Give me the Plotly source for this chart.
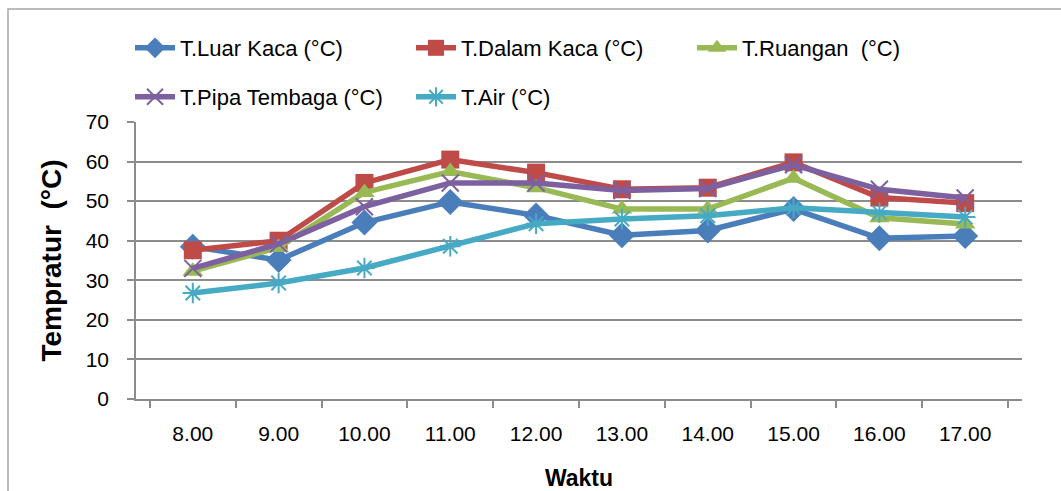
import plotly.graph_objects as go

# Jam pengukuran
waktu = ["8.00", "9.00", "10.00", "11.00", "12.00", "13.00", "14.00", "15.00", "16.00", "17.00"]

# Suhu terukur (°C)
t_luar_kaca = [38.5, 35.1, 44.6, 49.8, 46.4, 41.4, 42.6, 48.0, 40.6, 41.2]
t_dalam_kaca = [37.6, 40.0, 54.6, 60.5, 57.2, 53.0, 53.4, 59.8, 50.9, 49.5]
t_ruangan = [32.3, 38.3, 52.2, 57.5, 53.4, 48.0, 48.0, 55.8, 45.8, 44.2]
t_pipa_tembaga = [33.0, 39.2, 48.6, 54.6, 54.6, 52.7, 53.2, 59.2, 53.0, 50.8]
t_air = [26.8, 29.3, 33.1, 38.6, 44.3, 45.5, 46.3, 48.3, 47.1, 46.0]

FONT = "Liberation Sans"
GRID = "#8c8c8c"

series = [
    ("T.Luar Kaca (°C)", t_luar_kaca, "#4a7ebb", dict(symbol="diamond", size=20), "legend"),
    ("T.Dalam Kaca (°C)", t_dalam_kaca, "#be4b48", dict(symbol="square", size=18), "legend"),
    ("T.Ruangan\u00a0 (°C)", t_ruangan, "#98b954", dict(symbol="triangle-up", size=18), "legend"),
    ("T.Pipa Tembaga (°C)", t_pipa_tembaga, "#7d60a0", dict(symbol="x-thin-open", size=17), "legend2"),
    ("T.Air (°C)", t_air, "#46aac5", dict(symbol="asterisk-open", size=17), "legend2"),
]

fig = go.Figure()
for name, vals, color, mk, lg in series:
    thin = mk["symbol"].endswith("open")
    fig.add_trace(go.Scatter(
        x=waktu, y=vals, name=name, mode="lines+markers",
        line=dict(color=color, width=5.5),
        marker=dict(symbol=mk["symbol"], size=mk["size"], color=color,
                    line=dict(color=color, width=2 if thin else 0)),
        legend=lg,
    ))

legend_common = dict(
    orientation="h", xref="container", yref="container",
    xanchor="left", yanchor="middle",
    font=dict(family=FONT, size=22, color="#000000"),
    entrywidth=226, entrywidthmode="pixels",
    itemwidth=40, bgcolor="rgba(0,0,0,0)",
)

fig.update_layout(
    width=1061, height=491,
    margin=dict(l=136, r=39, t=122, b=92, autoexpand=False),
    paper_bgcolor="white", plot_bgcolor="white",
    font=dict(family=FONT, color="#000000"),
    legend=dict(x=130 / 1061, y=1 - 48 / 491, **legend_common),
    legend2=dict(x=130 / 1061, y=1 - 97 / 491, **legend_common),
    xaxis=dict(
        type="category", showgrid=False, showline=True, linecolor=GRID, linewidth=1.5,
        ticks="outside", tickson="boundaries", ticklen=7, tickcolor=GRID, tickwidth=1.5,
        tickfont=dict(family=FONT, size=21, color="#000000"),
        ticklabelstandoff=15,
        title=dict(text="<b>Waktu</b>", font=dict(family=FONT, size=23, color="#000000"), standoff=33),
    ),
    yaxis=dict(
        range=[0, 70], dtick=10, showgrid=True, gridcolor=GRID, gridwidth=1.5,
        showline=True, linecolor=GRID, linewidth=1.5, zeroline=False,
        ticks="outside", ticklen=7, tickcolor=GRID, tickwidth=1.5,
        tickfont=dict(family=FONT, size=21, color="#000000"),
        ticklabelstandoff=14,
        title=dict(text="<b>Tempratur\u00a0 (°C)</b>", font=dict(family=FONT, size=28, color="#000000"), standoff=16),
    ),
    shapes=[dict(
        type="rect", xref="paper", yref="paper",
        x0=(8 - 136) / 886, x1=1.2, y0=-0.6, y1=1 + (122 - 9) / 277,
        line=dict(color="#a6a6a6", width=1.5), fillcolor="rgba(0,0,0,0)", layer="below",
    )],
)

fig.write_html("out.html")
